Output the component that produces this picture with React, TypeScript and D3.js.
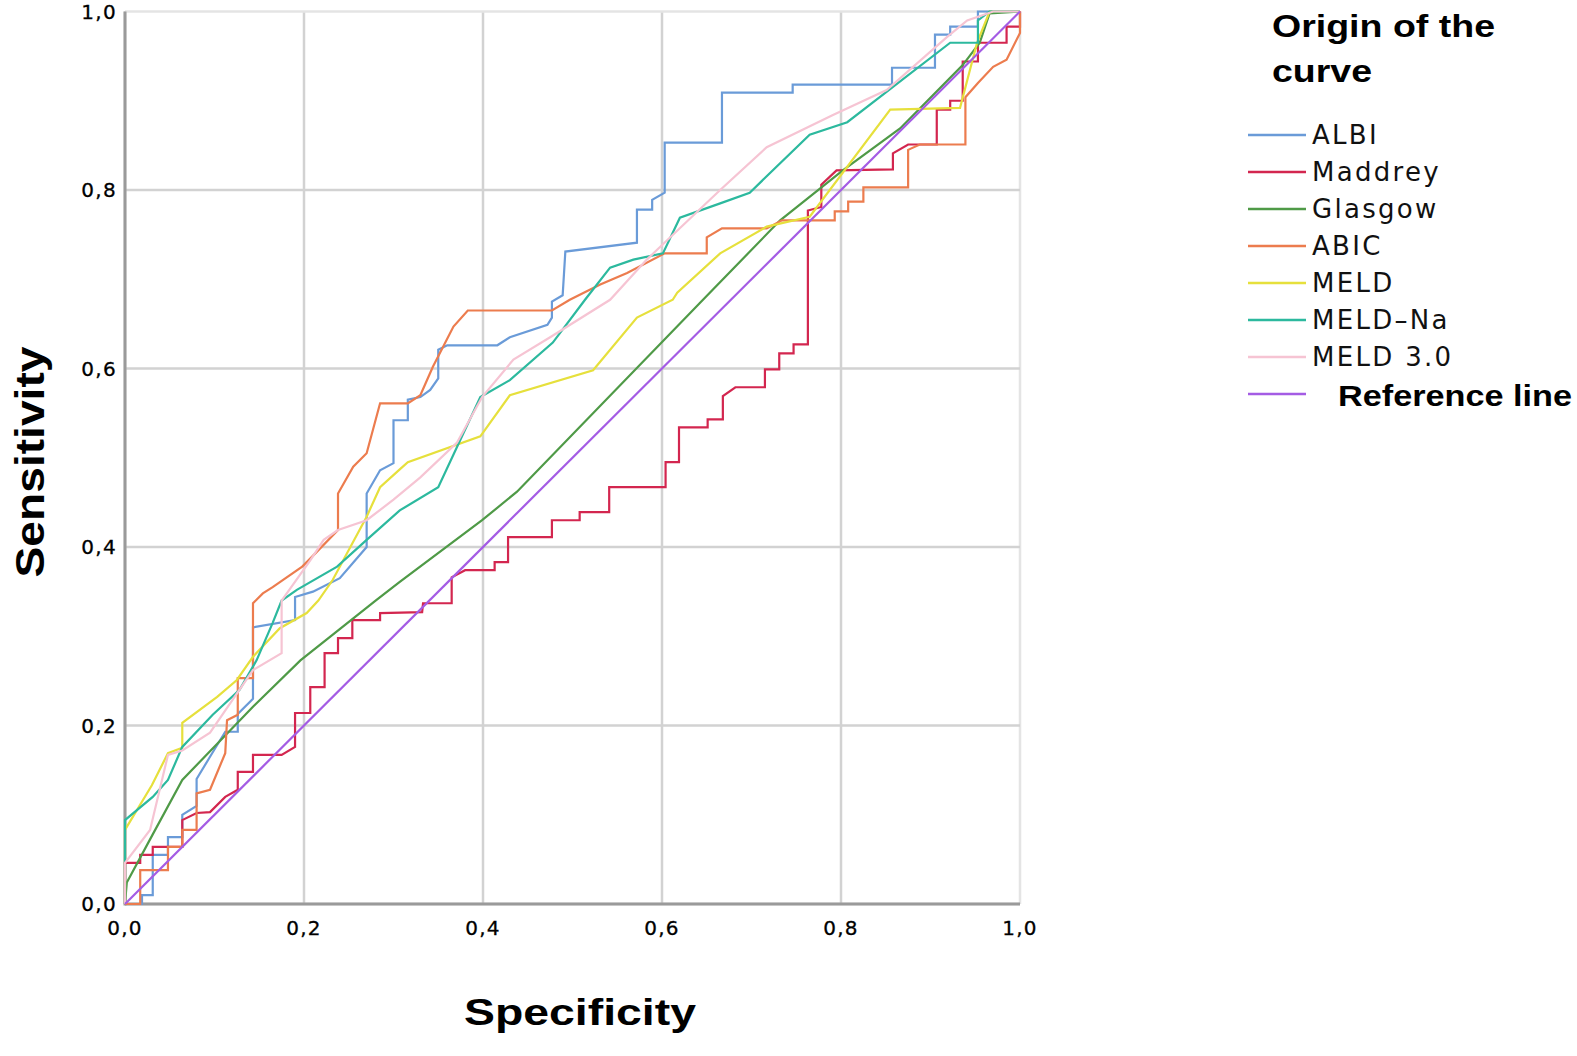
import React from "react";
import * as d3 from "d3";

type Pt = [number, number];

const seriesNames = ["ALBI", "Maddrey", "Glasgow", "ABIC", "MELD", "MELD–Na", "MELD 3.0", "Reference line"];
const seriesColors = ["#6a9bd8", "#d3264f", "#4f9a47", "#ec7c4e", "#e6e03c", "#2cb99e", "#f6c4d3", "#a45ce4"];

const albi: Pt[] = [[0,0],[0.019,0],[0.019,0.01],[0.031,0.01],[0.031,0.055],[0.048,0.055],[0.048,0.075],[0.064,0.075],[0.064,0.1],[0.08,0.11],[0.08,0.14],[0.095,0.165],[0.112,0.193],[0.126,0.193],[0.126,0.213],[0.143,0.23],[0.143,0.31],[0.19,0.318],[0.19,0.344],[0.21,0.35],[0.24,0.365],[0.27,0.4],[0.27,0.46],[0.285,0.486],[0.3,0.494],[0.3,0.542],[0.316,0.542],[0.316,0.565],[0.33,0.568],[0.341,0.576],[0.35,0.589],[0.35,0.621],[0.36,0.626],[0.416,0.626],[0.43,0.635],[0.472,0.649],[0.477,0.657],[0.477,0.675],[0.489,0.682],[0.492,0.731],[0.572,0.741],[0.572,0.778],[0.589,0.778],[0.589,0.789],[0.603,0.797],[0.603,0.853],[0.667,0.853],[0.667,0.909],[0.746,0.909],[0.746,0.918],[0.857,0.918],[0.857,0.937],[0.905,0.937],[0.905,0.974],[0.922,0.974],[0.922,0.983],[0.953,0.983],[0.953,1],[1,1]];

const maddrey: Pt[] = [[0,0],[0,0.046],[0.017,0.046],[0.017,0.055],[0.031,0.055],[0.031,0.064],[0.064,0.064],[0.064,0.094],[0.08,0.102],[0.095,0.103],[0.112,0.12],[0.126,0.128],[0.126,0.148],[0.143,0.148],[0.143,0.167],[0.175,0.167],[0.19,0.176],[0.19,0.214],[0.207,0.214],[0.207,0.243],[0.223,0.243],[0.223,0.281],[0.238,0.281],[0.238,0.298],[0.254,0.298],[0.254,0.318],[0.285,0.318],[0.285,0.326],[0.332,0.327],[0.333,0.337],[0.365,0.337],[0.365,0.366],[0.38,0.374],[0.413,0.374],[0.413,0.383],[0.428,0.383],[0.428,0.411],[0.477,0.411],[0.477,0.43],[0.508,0.43],[0.508,0.439],[0.541,0.439],[0.541,0.467],[0.604,0.467],[0.604,0.495],[0.619,0.495],[0.619,0.534],[0.651,0.534],[0.651,0.543],[0.668,0.543],[0.668,0.569],[0.682,0.579],[0.715,0.579],[0.715,0.599],[0.731,0.599],[0.731,0.617],[0.747,0.617],[0.747,0.627],[0.763,0.627],[0.763,0.777],[0.778,0.781],[0.778,0.806],[0.795,0.822],[0.858,0.823],[0.858,0.841],[0.875,0.851],[0.907,0.851],[0.907,0.89],[0.922,0.89],[0.922,0.9],[0.936,0.9],[0.936,0.944],[0.953,0.944],[0.953,0.965],[0.985,0.965],[0.985,0.983],[1,0.983],[1,1]];

const glasgow: Pt[] = [[0,0],[0.002,0.024],[0.031,0.078],[0.064,0.139],[0.143,0.221],[0.196,0.273],[0.28,0.34],[0.307,0.361],[0.399,0.43],[0.438,0.462],[0.642,0.673],[0.732,0.766],[0.802,0.822],[0.866,0.869],[0.936,0.94],[0.955,0.965],[0.966,0.998],[1,1]];

const abic: Pt[] = [[0,0],[0.017,0],[0.017,0.038],[0.048,0.038],[0.048,0.064],[0.064,0.064],[0.064,0.083],[0.08,0.083],[0.08,0.124],[0.095,0.128],[0.112,0.169],[0.114,0.206],[0.126,0.212],[0.126,0.253],[0.143,0.253],[0.143,0.337],[0.154,0.348],[0.165,0.355],[0.198,0.378],[0.205,0.385],[0.238,0.419],[0.238,0.46],[0.255,0.49],[0.27,0.505],[0.285,0.561],[0.316,0.561],[0.33,0.57],[0.344,0.602],[0.367,0.647],[0.383,0.665],[0.477,0.665],[0.497,0.677],[0.531,0.694],[0.561,0.707],[0.603,0.729],[0.65,0.729],[0.65,0.747],[0.667,0.757],[0.717,0.757],[0.734,0.766],[0.793,0.766],[0.793,0.776],[0.808,0.776],[0.808,0.787],[0.825,0.787],[0.825,0.803],[0.875,0.803],[0.875,0.845],[0.888,0.851],[0.939,0.851],[0.939,0.904],[0.953,0.92],[0.97,0.938],[0.985,0.946],[1,0.976],[1,1]];

const meld: Pt[] = [[0,0],[0,0.083],[0.03,0.133],[0.048,0.169],[0.064,0.175],[0.064,0.203],[0.103,0.232],[0.125,0.251],[0.143,0.277],[0.173,0.309],[0.203,0.326],[0.216,0.34],[0.232,0.363],[0.27,0.434],[0.285,0.467],[0.307,0.487],[0.316,0.495],[0.397,0.524],[0.43,0.57],[0.523,0.598],[0.572,0.657],[0.612,0.677],[0.617,0.685],[0.665,0.729],[0.717,0.759],[0.765,0.77],[0.855,0.89],[0.933,0.892],[0.952,0.965],[0.966,1],[1,1]];

const meldNa: Pt[] = [[0,0],[0,0.094],[0.031,0.12],[0.048,0.139],[0.064,0.176],[0.098,0.212],[0.128,0.24],[0.147,0.273],[0.165,0.315],[0.175,0.34],[0.192,0.352],[0.237,0.378],[0.27,0.408],[0.307,0.441],[0.35,0.467],[0.397,0.568],[0.43,0.587],[0.478,0.629],[0.514,0.677],[0.542,0.713],[0.568,0.722],[0.601,0.729],[0.62,0.769],[0.665,0.785],[0.698,0.797],[0.765,0.862],[0.807,0.876],[0.922,0.965],[0.953,0.965],[0.953,0.99],[0.966,1],[1,1]];

const meld30: Pt[] = [[0,0],[0,0.046],[0.028,0.083],[0.048,0.167],[0.064,0.172],[0.095,0.192],[0.143,0.262],[0.175,0.281],[0.175,0.34],[0.207,0.385],[0.222,0.408],[0.238,0.419],[0.27,0.43],[0.3,0.453],[0.33,0.478],[0.371,0.517],[0.399,0.568],[0.434,0.61],[0.475,0.635],[0.542,0.677],[0.583,0.722],[0.606,0.744],[0.665,0.8],[0.717,0.848],[0.791,0.884],[0.851,0.912],[0.918,0.971],[0.941,0.99],[0.97,1],[1,1]];

const referenceLine: Pt[] = [[0,0],[1,1]];

const seriesData: Pt[][] = [albi, maddrey, glasgow, abic, meld, meldNa, meld30, referenceLine];

const tickValues = [0, 0.2, 0.4, 0.6, 0.8, 1.0];

const W = 1577;
const H = 1056;

export default function App() {
  const x = d3.scaleLinear().domain([0, 1]).range([125, 1020]);
  const y = d3.scaleLinear().domain([0, 1]).range([904, 11.5]);
  const line = d3.line<Pt>().x((d) => x(d[0])).y((d) => y(d[1]));
  const fmt = (v: number) => d3.format(".1f")(v).replace(".", ",");

  const legendY = d3.scaleLinear().domain([0, 7]).range([135, 394]);

  return (
    <svg width={W} height={H} style={{ position: "absolute", left: 0, top: 0, background: "#fff" }}>
      <rect x={0} y={0} width={W} height={H} fill="#fff" />
      {/* grid */}
      {tickValues.map((t) => (
        <line key={"gx" + t} x1={x(t)} x2={x(t)} y1={y(0)} y2={y(1)} stroke={t === 1 ? "#e4e4e4" : "#d2d2d2"} strokeWidth={2.5} />
      ))}
      {tickValues.map((t) => (
        <line key={"gy" + t} x1={x(0)} x2={x(1)} y1={y(t)} y2={y(t)} stroke={t === 1 ? "#e4e4e4" : "#d2d2d2"} strokeWidth={2.5} />
      ))}
      {/* axes */}
      <line x1={x(0)} x2={x(0)} y1={y(0) + 1.5} y2={y(1)} stroke="#9a9a9a" strokeWidth={3} />
      <line x1={x(0)} x2={x(1)} y1={y(0)} y2={y(0)} stroke="#9a9a9a" strokeWidth={3} />
      {/* curves */}
      {seriesData.map((d, i) => (
        <path key={seriesNames[i]} d={line(d) || ""} fill="none" stroke={seriesColors[i]} strokeWidth={2.2} strokeLinejoin="miter" />
      ))}
      {/* tick labels */}
      {tickValues.map((t) => (
        <text key={"tx" + t} x={x(t)} y={y(0) + 31} textAnchor="middle" fontFamily="DejaVu Sans, sans-serif" fontSize={20} letterSpacing={1.3} stroke="#000" strokeWidth={0.3} fill="#000">
          {fmt(t)}
        </text>
      ))}
      {tickValues.map((t) => (
        <text key={"ty" + t} x={x(0) - 8} y={y(t) + 7} textAnchor="end" fontFamily="DejaVu Sans, sans-serif" fontSize={20} letterSpacing={1.3} stroke="#000" strokeWidth={0.3} fill="#000">
          {fmt(t)}
        </text>
      ))}
      {/* axis titles */}
      <text x={580} y={1025} textAnchor="middle" fontFamily="Liberation Sans, Arial, sans-serif" fontWeight="bold" fontSize={36} textLength={232} lengthAdjust="spacingAndGlyphs" fill="#000">
        Specificity
      </text>
      <text transform={`translate(44,462) rotate(-90)`} textAnchor="middle" fontFamily="Liberation Sans, Arial, sans-serif" fontWeight="bold" fontSize={40} textLength={231} lengthAdjust="spacingAndGlyphs" fill="#000">
        Sensitivity
      </text>
      {/* legend */}
      <text x={1272} y={37} fontFamily="Liberation Sans, Arial, sans-serif" fontWeight="bold" fontSize={31} textLength={223} lengthAdjust="spacingAndGlyphs" fill="#000">Origin of the</text>
      <text x={1272} y={82} fontFamily="Liberation Sans, Arial, sans-serif" fontWeight="bold" fontSize={31} textLength={100} lengthAdjust="spacingAndGlyphs" fill="#000">curve</text>
      {seriesNames.map((n, i) => (
        <g key={"lg" + n}>
          <line x1={1248} x2={1306} y1={legendY(i)} y2={legendY(i)} stroke={seriesColors[i]} strokeWidth={2.5} />
          {i < 7 ? (
            <text x={1312} y={legendY(i) + 9} fontFamily="DejaVu Sans, sans-serif" fontSize={26} letterSpacing={2.3} fill="#111">{n}</text>
          ) : (
            <text x={1338} y={legendY(i) + 12} fontFamily="Liberation Sans, Arial, sans-serif" fontWeight="bold" fontSize={29} textLength={234} lengthAdjust="spacingAndGlyphs" fill="#000">{n}</text>
          )}
        </g>
      ))}
    </svg>
  );
}
